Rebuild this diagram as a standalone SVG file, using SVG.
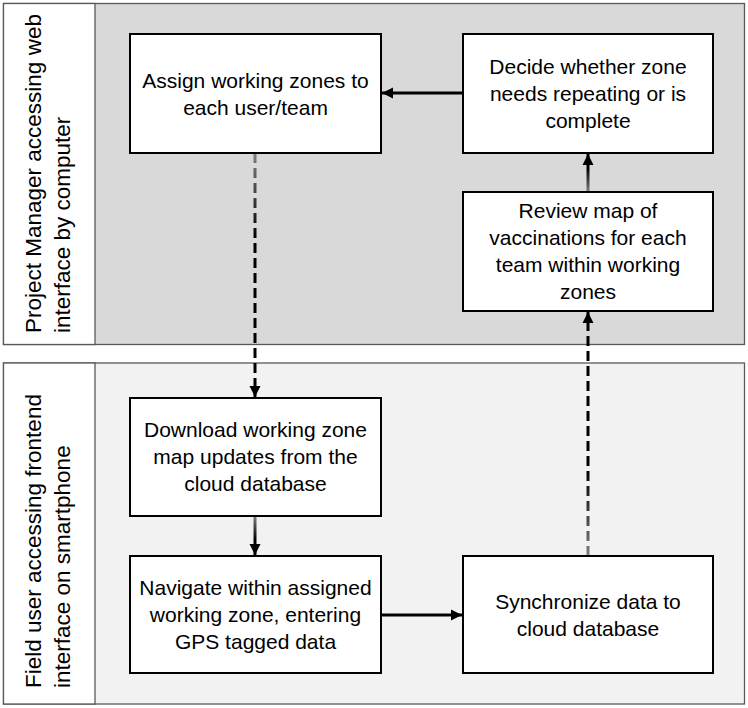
<svg xmlns="http://www.w3.org/2000/svg" width="748" height="708" viewBox="0 0 748 708">
<style>
.lane{stroke:#595959;stroke-width:1.3}
.box{fill:#fff;stroke:#000;stroke-width:2}
text{font-family:"Liberation Sans",Arial,sans-serif;font-size:21px;fill:#000;text-anchor:middle}
.hd{font-size:22.5px;text-anchor:start}
.c{fill:none;stroke-width:3}
.d{stroke-dasharray:10,5}
</style>
<defs>
<marker id="ah" markerUnits="userSpaceOnUse" markerWidth="12" markerHeight="12" refX="11" refY="6" orient="auto" viewBox="0 0 12 12"><path d="M0,0.5 L11,6 L0,11.5 z" fill="#000"/></marker>
<linearGradient id="g1" gradientUnits="userSpaceOnUse" x1="0" y1="153" x2="0" y2="398"><stop offset="0" stop-color="#808080"/><stop offset="0.35" stop-color="#000"/></linearGradient>
<linearGradient id="g2" gradientUnits="userSpaceOnUse" x1="0" y1="556" x2="0" y2="311"><stop offset="0" stop-color="#808080"/><stop offset="0.35" stop-color="#000"/></linearGradient>
<linearGradient id="g3" gradientUnits="userSpaceOnUse" x1="0" y1="192" x2="0" y2="153"><stop offset="0" stop-color="#808080"/><stop offset="0.6" stop-color="#000"/></linearGradient>
<linearGradient id="g4" gradientUnits="userSpaceOnUse" x1="0" y1="516" x2="0" y2="556"><stop offset="0" stop-color="#808080"/><stop offset="0.6" stop-color="#000"/></linearGradient>
</defs>
<g id="lane-manager">
<rect class="lane" x="3.5" y="3.5" width="741" height="341" fill="#d9d9d9"/>
<rect class="lane" x="3.5" y="3.5" width="91.5" height="341" fill="#fff"/>
<text class="hd" transform="translate(47,333) rotate(-90)"><tspan x="0" y="-6">Project Manager accessing web</tspan><tspan x="0" y="23">interface by computer</tspan></text>
</g>
<g id="lane-field">
<rect class="lane" x="3.5" y="363" width="741" height="341" fill="#f2f2f2"/>
<rect class="lane" x="3.5" y="363" width="91.5" height="341" fill="#fff"/>
<text class="hd" transform="translate(47,688) rotate(-90)"><tspan x="0" y="-6">Field user accessing frontend</tspan><tspan x="0" y="23">interface on smartphone</tspan></text>
</g>
<g id="connectors">
<line class="c" x1="463" y1="93" x2="382" y2="93" stroke="#000" marker-end="url(#ah)"/>
<line class="c" x1="588" y1="192" x2="588" y2="154" stroke="url(#g3)" marker-end="url(#ah)"/>
<line class="c d" x1="255" y1="153" x2="255" y2="397" stroke="url(#g1)" marker-end="url(#ah)"/>
<line class="c" x1="255" y1="516" x2="255" y2="555" stroke="url(#g4)" marker-end="url(#ah)"/>
<line class="c" x1="381" y1="615" x2="462" y2="615" stroke="#000" marker-end="url(#ah)"/>
<line class="c d" x1="588" y1="556" x2="588" y2="312" stroke="url(#g2)" marker-end="url(#ah)"/>
</g>
<g id="assign">
<rect class="box" x="130" y="34" width="251" height="119"/>
<text><tspan x="255.5" y="88">Assign working zones to</tspan><tspan x="255.5" y="115">each user/team</tspan></text>
</g>
<g id="decide">
<rect class="box" x="463" y="34" width="250" height="119"/>
<text><tspan x="588" y="74">Decide whether zone</tspan><tspan x="588" y="101">needs repeating or is</tspan><tspan x="588" y="128">complete</tspan></text>
</g>
<g id="review">
<rect class="box" x="463" y="192" width="250" height="119"/>
<text><tspan x="588" y="218">Review map of</tspan><tspan x="588" y="245">vaccinations for each</tspan><tspan x="588" y="272">team within working</tspan><tspan x="588" y="299">zones</tspan></text>
</g>
<g id="download">
<rect class="box" x="130" y="398" width="251" height="118"/>
<text><tspan x="255.5" y="437">Download working zone</tspan><tspan x="255.5" y="464">map updates from the</tspan><tspan x="255.5" y="491">cloud database</tspan></text>
</g>
<g id="navigate">
<rect class="box" x="130" y="556" width="251" height="117"/>
<text><tspan x="255.5" y="595">Navigate within assigned</tspan><tspan x="255.5" y="622">working zone, entering</tspan><tspan x="255.5" y="649">GPS tagged data</tspan></text>
</g>
<g id="sync">
<rect class="box" x="463" y="556" width="250" height="117"/>
<text><tspan x="588" y="609">Synchronize data to</tspan><tspan x="588" y="636">cloud database</tspan></text>
</g>
</svg>
